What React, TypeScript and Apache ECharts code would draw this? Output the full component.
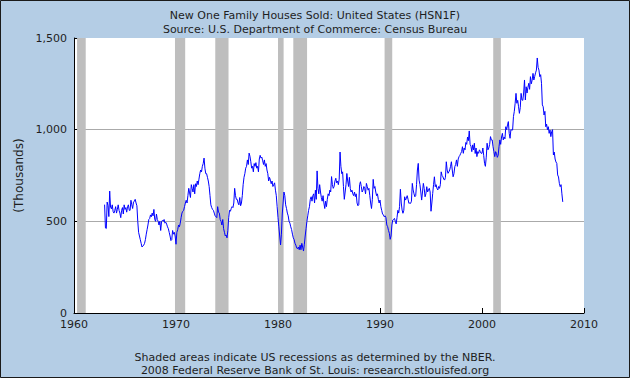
import React, { useEffect, useRef } from "react";
import * as echarts from "echarts";

const titleLines = [
  "New One Family Houses Sold: United States (HSN1F)",
  "Source: U.S. Department of Commerce: Census Bureau",
];
const footerLines = [
  "Shaded areas indicate US recessions as determined by the NBER.",
  "2008 Federal Reserve Bank of St. Louis: research.stlouisfed.org",
];
const yAxisName = "(Thousands)";
const xMin = 1960;
const xMax = 2010;
const xStep = 10;
const yMin = 0;
const yMax = 1500;
const yStep = 500;

const startYear = 1963;
// Monthly values (thousands, SAAR), one row per year 1963..2007
const monthlySales = [
  591, 464, 461, 605, 586, 526, 665, 577, 568, 590, 554, 545,
  560, 580, 545, 565, 590, 560, 545, 520, 560, 575, 540, 590,
  565, 575, 550, 580, 590, 560, 560, 615, 590, 570, 605, 610,
  620, 600, 585, 500, 440, 420, 400, 380, 360, 365, 370, 380,
  400, 430, 455, 480, 510, 515, 535, 525, 545, 530, 565, 510,
  500, 540, 510, 500, 480, 500, 450, 500, 505, 500, 510, 490,
  495, 485, 470, 460, 440, 420, 395, 400, 450, 430, 440, 420,
  375, 440, 455, 480, 470, 490, 520, 545, 555, 560, 580, 600,
  615, 600, 640, 680, 655, 630, 700, 680, 660, 700, 650, 705,
  690, 720, 700, 730, 760, 780, 770, 800, 815, 845, 790, 760,
  760, 740, 720, 690, 640, 590, 575, 565, 560, 545, 530, 525,
  520, 580, 550, 545, 510, 500, 480, 510, 460, 440, 420, 425,
  410, 450, 520, 560, 555, 570, 580, 575, 600, 680, 640, 620,
  620, 600, 590, 630, 585, 600, 640, 700, 740, 760, 790, 800,
  835, 810, 872, 855, 825, 790, 800, 770, 815, 800, 820, 790,
  800, 770, 840, 860, 845, 850, 830, 810, 835, 800, 815, 780,
  760, 720, 740, 725, 705, 720, 690, 700, 710, 670, 640, 580,
  520, 470, 420, 371, 430, 540, 600, 660, 640, 590, 570, 545,
  530, 500, 490, 470, 455, 430, 410, 400, 380, 370, 355, 350,
  360, 345, 370, 345, 380, 360, 338, 375, 420, 460, 500, 530,
  560, 580, 620, 634, 610, 640, 650, 600, 670, 620, 775, 680,
  650, 700, 660, 630, 610, 640, 600, 570, 610, 580, 620, 650,
  640, 670, 660, 744, 700, 680, 690, 720, 735, 710, 720, 700,
  730, 878, 800, 760, 770, 690, 620, 660, 700, 761, 720, 690,
  740, 680, 660, 670, 650, 640, 660, 635, 650, 600, 585, 590,
  700, 716, 690, 660, 670, 690, 680, 650, 707, 690, 670, 680,
  640, 600, 570, 620, 729, 680, 690, 660, 640, 650, 620, 600,
  616, 580, 560, 540, 535, 525, 530, 520, 480, 471, 450, 435,
  402, 420, 480, 507, 510, 516, 500, 486, 520, 560, 545, 580,
  675, 600, 562, 544, 560, 634, 616, 625, 640, 620, 598, 600,
  598, 610, 707, 671, 650, 634, 640, 700, 780, 816, 725, 700,
  660, 616, 660, 707, 680, 634, 650, 689, 660, 671, 680, 660,
  555, 600, 652, 700, 743, 689, 700, 680, 671, 690, 680, 700,
  770, 750, 743, 730, 725, 740, 825, 780, 762, 770, 780, 800,
  825, 780, 743, 760, 798, 810, 835, 800, 840, 853, 860, 871,
  880, 907, 871, 900, 890, 930, 920, 960, 940, 993, 920, 910,
  880, 917, 890, 926, 870, 900, 853, 880, 871, 890, 880, 871,
  871, 900, 860, 816, 800, 850, 926, 890, 900, 920, 962, 944,
  944, 907, 880, 853, 880, 871, 849, 860, 907, 944, 920, 960,
  980, 944, 960, 950, 1016, 1000, 1026, 1044, 980, 953, 1000, 998,
  998, 1071, 1100, 1144, 1198, 1144, 1160, 1125, 1089, 1120, 1198, 1162,
  1160, 1200, 1271, 1162, 1234, 1200, 1230, 1253, 1220, 1289, 1250, 1270,
  1307, 1271, 1290, 1310, 1325, 1391, 1340, 1325, 1289, 1300, 1253, 1135,
  1125, 1080, 1100, 1016, 1030, 1000, 1016, 980, 998, 962, 990, 1000,
  862, 878, 840, 824, 816, 753, 742, 707, 689, 700, 650, 606,
];

const recessionStarts = [1960.3, 1969.9, 1973.85, 1980.0, 1981.5, 1990.45, 2001.1];
const recessionEnds = [1961.15, 1970.9, 1975.15, 1980.55, 1982.85, 1991.2, 2001.85];

const FONT = "DejaVu Sans";
const TEXT = "#1e1e1e";

export default function App() {
  const ref = useRef<HTMLDivElement>(null);
  useEffect(() => {
    if (!ref.current) return;
    const chart = echarts.init(ref.current, undefined, { renderer: "svg" });
    const seriesData = monthlySales.map((v, i) => [startYear + i / 12, v]);
    const areas = recessionStarts.map((s, i) => [
      { xAxis: s },
      { xAxis: recessionEnds[i] },
    ]);
    chart.setOption({
      animation: false,
      backgroundColor: "#b4cde5",
      title: [
        {
          text: titleLines.join("\n"),
          left: "center",
          top: 3,
          textStyle: {
            fontFamily: FONT,
            fontSize: 11,
            fontWeight: "normal",
            color: TEXT,
            lineHeight: 14,
          },
        },
        {
          text: footerLines.join("\n"),
          left: "center",
          top: 346,
          textStyle: {
            fontFamily: FONT,
            fontSize: 11,
            fontWeight: "normal",
            color: TEXT,
            lineHeight: 13,
          },
        },
      ],
      graphic: [
        {
          type: "rect",
          shape: { x: 0.5, y: 0.5, width: 629, height: 377 },
          style: { fill: "none", stroke: "#1a1a1a", lineWidth: 1 },
          silent: true,
          z: 100,
        },
      ],
      grid: {
        left: 74,
        right: 46,
        top: 38,
        bottom: 65,
        show: true,
        backgroundColor: "#ffffff",
        borderWidth: 0,
      },
      xAxis: {
        type: "value",
        min: xMin,
        max: xMax,
        interval: xStep,
        axisLine: { show: true, lineStyle: { color: "#000", width: 1 } },
        axisTick: { show: true, inside: true, length: 5, lineStyle: { color: "#000" } },
        axisLabel: {
          fontFamily: FONT,
          fontSize: 11,
          color: TEXT,
          margin: 6,
          formatter: (v: number) => String(v),
        },
        splitLine: { show: false },
      },
      yAxis: {
        type: "value",
        min: yMin,
        max: yMax,
        interval: yStep,
        name: yAxisName,
        nameLocation: "middle",
        nameGap: 47,
        nameTextStyle: { fontFamily: FONT, fontSize: 12, color: TEXT },
        axisLine: { show: true, lineStyle: { color: "#000", width: 1 } },
        axisTick: { show: true, inside: true, length: 5, lineStyle: { color: "#000" } },
        axisLabel: {
          fontFamily: FONT,
          fontSize: 11,
          color: TEXT,
          margin: 7,
          formatter: (v: number) => v.toLocaleString("en-US"),
        },
        splitLine: {
          show: true,
          lineStyle: {
            color: ["rgba(0,0,0,0)", "#aaaaaa", "#aaaaaa", "rgba(0,0,0,0)"],
            width: 1,
          },
        },
      },
      series: [
        {
          type: "line",
          data: seriesData,
          showSymbol: false,
          symbol: "none",
          lineStyle: { color: "#0000ff", width: 1 },
          itemStyle: { color: "#0000ff" },
          silent: true,
          markArea: {
            silent: true,
            itemStyle: { color: "#bebebe" },
            data: areas,
          },
        },
      ],
    });
    return () => chart.dispose();
  }, []);
  return (
    <div
      ref={ref}
      style={{ position: "absolute", left: 0, top: 0, width: 630, height: 378 }}
    />
  );
}
